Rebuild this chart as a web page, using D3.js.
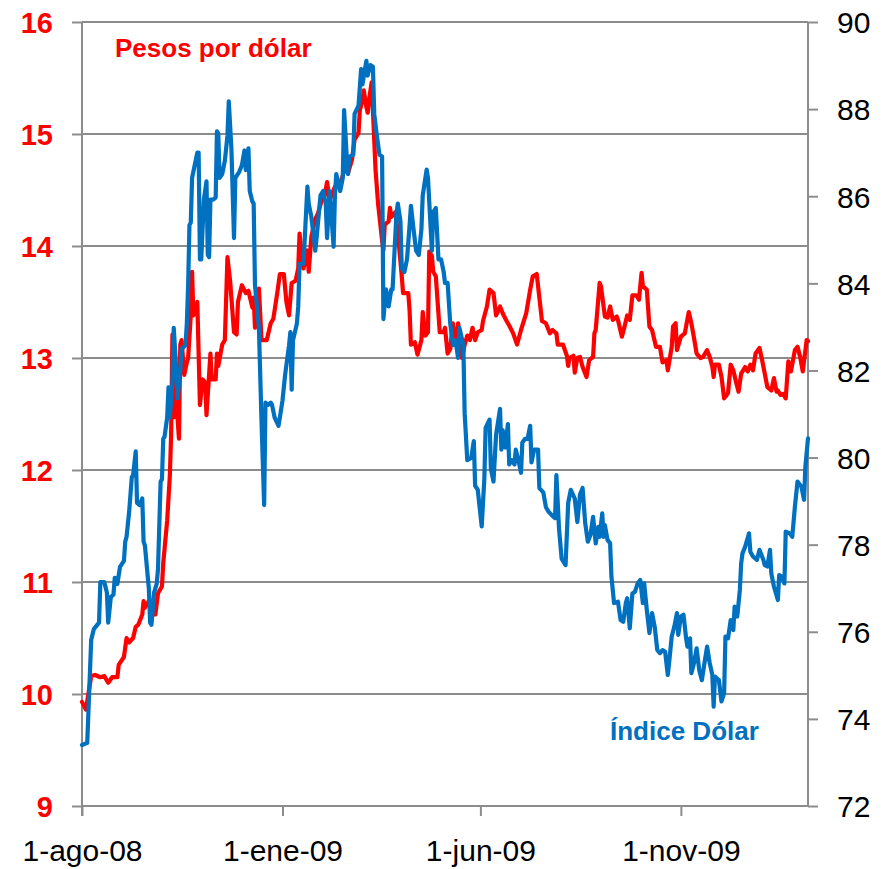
<!DOCTYPE html>
<html>
<head>
<meta charset="utf-8">
<script src="https://cdn.jsdelivr.net/npm/d3@7"></script>
<style>
  body { margin: 0; background: #fff; }
  svg { display: block; }
</style>
</head>
<body>
<svg id="chart" width="889" height="869"></svg>
<script>
// Pesos por dolar vs. indice dolar, daily, 1-ago-08 .. feb-10

// days counted from 1-ago-08
var startDate = new Date(2008, 7, 1);
var lastDay = 554;

var redDays = [
  0, 3, 5, 7, 10, 14, 17, 20, 23, 27,
  28, 32, 34, 36, 39, 41, 43, 46, 47, 48,
  51, 53, 56, 58, 61, 62, 65, 67, 68, 69,
  70, 71, 74, 75, 76, 78, 80, 81, 83, 84,
  85, 88, 89, 90, 92, 94, 95, 98, 99, 102,
  103, 104, 107, 109, 111, 113, 116, 118, 119, 122,
  125, 127, 130, 131, 132, 135, 137, 141, 144, 146,
  149, 151, 154, 156, 158, 160, 163, 165, 166, 169,
  172, 173, 175, 178, 180, 183, 185, 187, 189, 193,
  198, 201, 203, 206, 208, 211, 212, 214, 215, 217,
  218, 219, 221, 222, 224, 226, 229, 230, 231, 234,
  235, 236, 239, 240, 242, 244, 245, 249, 250, 251,
  254, 256, 259, 260, 262, 264, 265, 267, 268, 270,
  273, 276, 277, 279, 281, 283, 284, 286, 287, 290,
  292, 294, 296, 298, 300, 302, 305, 306, 309, 311,
  314, 316, 319, 321, 324, 326, 329, 332, 335, 339,
  342, 344, 347, 349, 351, 354, 357, 359, 362, 363,
  367, 370, 371, 372, 375, 376, 378, 380, 382, 385,
  387, 390, 391, 392, 395, 396, 399, 401, 403, 405,
  408, 409, 412, 414, 416, 418, 420, 423, 425, 427,
  428, 431, 433, 435, 438, 441, 443, 446, 447, 450,
  451, 453, 454, 457, 460, 463, 465, 467, 469, 472,
  474, 477, 479, 481, 482, 483, 486, 488, 490, 492,
  493, 495, 497, 499, 501, 503, 506, 508, 510, 512,
  514, 517, 519, 521, 523, 526, 528, 530, 531, 533,
  535, 537, 539, 541, 544, 546, 548, 550, 553, 554
];
var pesos = [
  9.93, 9.86, 10.01, 10.16, 10.17, 10.15, 10.16, 10.10, 10.15, 10.15,
  10.26, 10.33, 10.50, 10.46, 10.50, 10.60, 10.62, 10.71, 10.83, 10.77,
  10.83, 10.71, 10.71, 10.90, 10.96, 11.17, 11.55, 11.94, 12.31, 13.21,
  12.47, 12.78, 12.28, 13.12, 13.16, 12.85, 12.96, 13.00, 13.38, 13.77,
  13.38, 13.50, 13.04, 12.58, 12.81, 12.78, 12.49, 13.04, 12.81, 12.81,
  13.04, 12.93, 13.12, 13.16, 13.90, 13.69, 13.23, 13.21, 13.50, 13.65,
  13.58, 13.60, 13.45, 13.54, 13.27, 13.62, 13.16, 13.16, 13.31, 13.35,
  13.58, 13.75, 13.75, 13.50, 13.38, 13.67, 13.69, 13.80, 14.11, 13.80,
  13.96, 13.77, 14.08, 14.24, 14.29, 14.41, 14.44, 14.57, 14.41, 14.53,
  14.59, 14.71, 14.65, 14.77, 14.95, 15.01, 15.21, 15.30, 15.39, 15.24,
  15.19, 15.30, 15.46, 15.21, 14.68, 14.37, 14.05, 13.96, 14.19, 14.22,
  14.34, 14.26, 14.30, 14.22, 13.99, 13.73, 13.58, 13.58, 13.42, 13.12,
  13.14, 13.03, 13.16, 13.41, 13.20, 13.23, 13.95, 13.91, 13.77, 13.73,
  13.23, 13.23, 13.27, 13.04, 13.08, 13.31, 13.23, 13.16, 13.31, 13.00,
  13.12, 13.20, 13.16, 13.27, 13.16, 13.23, 13.25, 13.33, 13.46, 13.61,
  13.58, 13.38, 13.46, 13.40, 13.33, 13.29, 13.22, 13.12, 13.25, 13.40,
  13.61, 13.73, 13.75, 13.54, 13.33, 13.31, 13.22, 13.25, 13.22, 13.12,
  13.12, 13.02, 12.93, 13.00, 13.02, 12.87, 13.00, 13.01, 12.92, 12.83,
  12.98, 13.01, 13.22, 13.25, 13.67, 13.64, 13.37, 13.36, 13.46, 13.34,
  13.37, 13.34, 13.19, 13.28, 13.38, 13.34, 13.56, 13.56, 13.52, 13.76,
  13.64, 13.61, 13.28, 13.25, 13.10, 13.10, 12.96, 12.98, 12.89, 13.10,
  13.28, 13.31, 13.07, 13.19, 13.22, 13.41, 13.31, 13.18, 13.04, 13.00,
  13.01, 13.07, 13.01, 12.92, 12.83, 12.94, 12.94, 12.83, 12.64, 12.67,
  12.69, 12.94, 12.89, 12.79, 12.70, 12.86, 12.92, 12.88, 12.94, 12.89,
  13.04, 13.09, 12.98, 12.86, 12.74, 12.71, 12.82, 12.70, 12.71, 12.67,
  12.68, 12.64, 12.97, 12.88, 13.07, 13.10, 13.01, 12.88, 13.16, 13.15
];

var blueDays = [
  0, 4, 7, 9, 13, 14, 17, 19, 20, 22,
  24, 25, 27, 29, 32, 33, 34, 36, 38, 39,
  41, 42, 44, 46, 47, 48, 51, 52, 53, 55,
  57, 58, 60, 61, 62, 63, 65, 66, 67, 69,
  70, 72, 73, 75, 76, 79, 80, 81, 82, 83,
  84, 86, 88, 89, 90, 91, 93, 95, 96, 97,
  98, 100, 102, 103, 104, 105, 107, 109, 111, 112,
  114, 116, 117, 120, 122, 124, 125, 127, 128, 130,
  131, 132, 135, 137, 139, 140, 142, 144, 145, 147,
  150, 153, 155, 158, 159, 160, 161, 164, 165, 166,
  169, 172, 173, 175, 178, 179, 182, 184, 186, 187,
  189, 192, 193, 194, 197, 199, 200, 202, 203, 204,
  207, 208, 211, 213, 214, 217, 218, 220, 222, 223,
  225, 227, 229, 230, 232, 234, 236, 237, 239, 240,
  241, 243, 244, 246, 248, 250, 251, 253, 255, 257,
  259, 260, 263, 264, 267, 268, 270, 272, 274, 276,
  277, 279, 281, 283, 285, 287, 288, 291, 292, 294,
  297, 299, 300, 302, 305, 307, 308, 311, 312, 314,
  316, 319, 320, 321, 323, 325, 326, 328, 330, 331,
  333, 335, 336, 338, 340, 342, 343, 345, 348, 349,
  352, 354, 356, 359, 361, 362, 364, 366, 369, 371,
  373, 376, 378, 380, 382, 384, 386, 388, 390, 392,
  394, 395, 397, 398, 399, 401, 403, 404, 406, 409,
  411, 413, 415, 416, 418, 420, 422, 424, 426, 428,
  429, 431, 433, 435, 437, 439, 441, 443, 445, 447,
  448, 450, 452, 454, 455, 457, 459, 461, 462, 464,
  465, 467, 469, 471, 473, 475, 477, 479, 481, 482,
  483, 486, 488, 490, 491, 493, 495, 497, 498, 500,
  502, 503, 504, 506, 509, 510, 512, 515, 517, 520,
  521, 523, 525, 526, 528, 531, 532, 534, 536, 537,
  540, 542, 544, 546, 549, 551, 552, 554
];
var dollarIndex = [
  73.40, 73.45, 75.81, 76.06, 76.21, 77.14, 77.14, 76.90, 76.21, 76.80,
  76.85, 77.24, 77.10, 77.49, 77.63, 78.07, 78.18, 78.76, 79.55, 79.60,
  80.14, 78.96, 78.91, 79.06, 78.07, 77.98, 77.00, 76.21, 76.16, 76.90,
  77.10, 77.44, 79.45, 79.50, 80.43, 80.48, 80.92, 81.61, 80.92, 81.71,
  82.98, 82.00, 81.36, 82.00, 82.49, 82.58, 83.08, 83.96, 85.34, 85.39,
  86.42, 86.71, 87.00, 87.00, 84.55, 84.55, 85.92, 86.34, 84.65, 84.60,
  85.92, 85.92, 85.97, 87.49, 87.44, 86.42, 86.51, 86.81, 87.39, 88.18,
  87.10, 85.04, 86.42, 86.56, 86.71, 87.05, 86.60, 87.10, 86.12, 85.88,
  85.83, 83.96, 82.98, 80.82, 78.91, 81.26, 81.21, 81.26, 81.21, 80.92,
  80.73, 81.31, 81.90, 82.58, 82.88, 81.56, 82.69, 83.08, 83.47, 84.45,
  84.45, 86.22, 85.83, 85.53, 84.75, 85.04, 86.02, 86.12, 85.83, 85.04,
  86.12, 84.84, 86.02, 86.51, 86.12, 86.42, 87.98, 86.91, 86.51, 86.91,
  86.95, 87.89, 88.08, 88.92, 88.57, 89.11, 88.77, 89.01, 88.97, 87.89,
  87.39, 86.95, 86.91, 83.18, 83.86, 83.47, 83.86, 83.86, 85.04, 85.63,
  85.83, 85.43, 84.35, 84.26, 84.55, 85.34, 85.78, 85.24, 84.75, 84.65,
  85.24, 86.02, 86.61, 86.42, 84.75, 85.63, 85.73, 84.55, 84.55, 84.26,
  84.01, 84.01, 83.08, 82.58, 82.69, 82.29, 82.98, 82.58, 81.02, 79.94,
  79.99, 80.38, 79.35, 79.26, 78.42, 79.50, 80.68, 80.87, 79.74, 79.45,
  80.53, 81.12, 80.18, 80.63, 80.23, 80.77, 79.84, 79.94, 79.84, 80.18,
  79.94, 79.65, 80.34, 80.43, 80.43, 80.73, 79.89, 80.18, 80.18, 79.30,
  79.20, 78.86, 78.76, 78.66, 78.61, 79.60, 78.37, 77.68, 77.53, 78.96,
  79.26, 79.06, 78.52, 79.15, 79.30, 78.49, 78.07, 78.22, 78.64, 78.03,
  78.41, 78.18, 78.72, 78.18, 78.45, 78.11, 78.03, 77.27, 76.66, 76.69,
  76.27, 76.23, 76.66, 76.77, 76.08, 76.88, 76.92, 77.11, 77.19, 76.66,
  77.11, 76.50, 75.97, 76.43, 76.12, 75.58, 75.51, 75.58, 75.54, 75.01,
  75.28, 75.89, 76.12, 76.43, 75.93, 76.35, 76.39, 75.85, 75.66, 75.85,
  75.05, 75.28, 75.62, 75.12, 74.89, 75.28, 75.66, 75.28, 75.01, 74.28,
  74.97, 74.89, 74.40, 74.59, 75.89, 75.85, 76.27, 76.04, 76.58, 76.35,
  76.96, 77.57, 77.80, 77.95, 78.26, 77.84, 77.73, 77.65, 77.88, 77.65,
  77.53, 77.50, 77.88, 77.34, 77.04, 76.73, 77.30, 77.27, 77.11, 78.30,
  78.26, 78.18, 78.87, 79.45, 79.33, 79.03, 79.79, 80.44
];

var leftTicks = [9, 10, 11, 12, 13, 14, 15, 16];
var rightTicks = [72, 74, 76, 78, 80, 82, 84, 86, 88, 90];
var xTickDates = ["2008-08-01", "2009-01-01", "2009-06-01", "2009-11-01"];
var xTickLabels = ["1-ago-08", "1-ene-09", "1-jun-09", "1-nov-09"];

var fontFam = '"Liberation Sans", Arial, Helvetica, sans-serif';
var axisGray = "#8c8c8c";
var redCol = "#ff0000";
var blueCol = "#0070c0";

var svg = d3.select("#chart"),
    margin = {top: 22, right: 81, bottom: 63, left: 82},
    width = +svg.attr("width") - margin.left - margin.right,
    height = +svg.attr("height") - margin.top - margin.bottom,
    g = svg.append("g").attr("transform", "translate(" + margin.left + "," + margin.top + ")");

var parseDay = d3.timeParse("%Y-%m-%d");

// scales
var x = d3.scaleTime()
    .domain([startDate, d3.timeDay.offset(startDate, lastDay)])
    .range([0, width]);

var yLeft = d3.scaleLinear().domain([9, 16]).range([height, 0]);
var yRight = d3.scaleLinear().domain([72, 90]).range([height, 0]);

var pesoData = redDays.map(function(d, i) {
  return {date: d3.timeDay.offset(startDate, d), value: pesos[i]};
});
var indexData = blueDays.map(function(d, i) {
  return {date: d3.timeDay.offset(startDate, d), value: dollarIndex[i]};
});

// gridlines (left axis ticks)
g.append("g")
  .selectAll("line")
  .data(leftTicks.slice(1))
  .enter().append("line")
    .attr("x1", 0)
    .attr("x2", width)
    .attr("y1", function(d) { return yLeft(d); })
    .attr("y2", function(d) { return yLeft(d); })
    .attr("stroke", axisGray)
    .attr("stroke-width", 2);

// left axis
var gLeft = g.append("g")
    .call(d3.axisLeft(yLeft).tickValues(leftTicks).tickFormat(d3.format("d"))
      .tickSize(10).tickSizeOuter(0).tickPadding(19));
gLeft.select(".domain").remove();
gLeft.selectAll("line").attr("stroke", axisGray).attr("stroke-width", 2);
gLeft.selectAll("text")
    .attr("fill", redCol)
    .attr("font-family", fontFam)
    .attr("font-size", 29)
    .attr("font-weight", "bold")
    .attr("dy", "0.37em");

// right axis
var gRight = g.append("g")
    .attr("transform", "translate(" + width + ",0)")
    .call(d3.axisRight(yRight).tickValues(rightTicks).tickFormat(d3.format("d"))
      .tickSize(10).tickSizeOuter(0).tickPadding(19));
gRight.select(".domain").remove();
gRight.selectAll("line").attr("stroke", axisGray).attr("stroke-width", 2);
gRight.selectAll("text")
    .attr("fill", "#000")
    .attr("font-family", fontFam)
    .attr("font-size", 30)
    .attr("dy", "0.36em");

// x axis
var gX = g.append("g")
    .attr("transform", "translate(0," + height + ")")
    .call(d3.axisBottom(x)
      .tickValues(xTickDates.map(parseDay))
      .tickFormat(function(d, i) { return xTickLabels[i]; })
      .tickSize(10).tickSizeOuter(0).tickPadding(24));
gX.select(".domain").remove();
gX.selectAll("line").attr("stroke", axisGray).attr("stroke-width", 2);
gX.selectAll("text")
    .attr("fill", "#000")
    .attr("font-family", fontFam)
    .attr("font-size", 30);

// axis lines
g.append("line")
    .attr("x1", 0).attr("x2", 0)
    .attr("y1", 0).attr("y2", height + 10)
    .attr("stroke", axisGray).attr("stroke-width", 2);
g.append("line")
    .attr("x1", width).attr("x2", width)
    .attr("y1", 0).attr("y2", height)
    .attr("stroke", axisGray).attr("stroke-width", 2);
g.append("line")
    .attr("x1", 0).attr("x2", width)
    .attr("y1", height).attr("y2", height)
    .attr("stroke", axisGray).attr("stroke-width", 2);

// series
var linePeso = d3.line()
    .x(function(d) { return x(d.date); })
    .y(function(d) { return yLeft(d.value); });

var lineIndex = d3.line()
    .x(function(d) { return x(d.date); })
    .y(function(d) { return yRight(d.value); });

g.append("path")
    .datum(pesoData)
    .attr("fill", "none")
    .attr("stroke", redCol)
    .attr("stroke-width", 4.2)
    .attr("stroke-linejoin", "round")
    .attr("stroke-linecap", "round")
    .attr("d", linePeso);

g.append("path")
    .datum(indexData)
    .attr("fill", "none")
    .attr("stroke", blueCol)
    .attr("stroke-width", 4.2)
    .attr("stroke-linejoin", "round")
    .attr("stroke-linecap", "round")
    .attr("d", lineIndex);

// series labels
svg.append("text")
    .attr("x", 115)
    .attr("y", 57)
    .attr("fill", redCol)
    .attr("font-family", fontFam)
    .attr("font-size", 26)
    .attr("font-weight", "bold")
    .text("Pesos por dólar");

svg.append("text")
    .attr("x", 610)
    .attr("y", 740)
    .attr("fill", blueCol)
    .attr("font-family", fontFam)
    .attr("font-size", 26)
    .attr("font-weight", "bold")
    .text("Índice Dólar");
</script>
</body>
</html>
